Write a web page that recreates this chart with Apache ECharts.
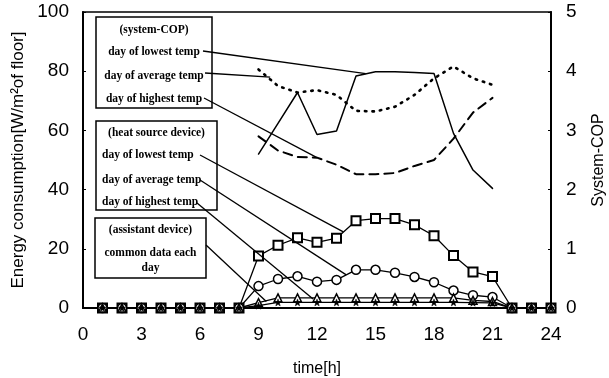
<!DOCTYPE html>
<html>
<head>
<meta charset="utf-8">
<script src="https://cdn.jsdelivr.net/npm/echarts@6/dist/echarts.min.js"></script>
<style>
html,body{margin:0;padding:0;background:#fff;}
#mainChart{width:609px;height:378px;}
</style>
</head>
<body>
<div id="mainChart"></div>
<script>
var chart;

// 时刻 (h)
var hours = [1,2,3,4,5,6,7,8,9,10,11,12,13,14,15,16,17,18,19,20,21,22,23,24];
var xTicks = [0,3,6,9,12,15,18,21,24];

// heat source device 能耗 [W/m2]
var hsLowest  = [0,0,0,0,0,0,0,0,17.6,21.2,23.7,22.2,23.6,29.5,30.2,30.2,28.1,24.4,17.7,12.2,10.6,0,0,0];
var hsAverage = [0,0,0,0,0,0,0,0,7.4,9.8,10.7,8.9,9.5,12.9,12.9,11.9,10.5,8.7,5.9,4.3,3.7,0,0,0];
var hsHighest = [0,0,0,0,0,0,0,0,1.8,3.4,3.4,3.4,3.4,3.4,3.4,3.4,3.4,3.4,3.4,2.6,2.2,0,0,0];
// assistant device
var assistant = [0,0,0,0,0,0,0,0,0.8,1.9,1.9,1.9,1.9,1.9,1.9,1.9,1.9,1.9,1.9,1.8,1.7,0,0,0];

// system-COP (9时~21时)
var copHours   = [9,10,11,12,13,14,15,16,17,18,19,20,21];
var copLowest  = [2.6,3.12,3.64,2.93,2.99,3.92,3.99,3.99,3.98,3.96,2.95,2.33,2.02];
var copAverage = [4.03,3.75,3.64,3.68,3.6,3.33,3.32,3.4,3.6,3.88,4.08,3.88,3.77];
var copHighest = [2.9,2.66,2.55,2.54,2.42,2.26,2.26,2.28,2.4,2.5,2.86,3.3,3.55];

// 文字框
var boxes = [
	{x:96, y:17, w:116, h:91, align:'center', lines:[
		{t:'(system-COP)', y:30},
		{t:'day of lowest temp', y:52},
		{t:'day of average temp', y:76},
		{t:'day of highest temp', y:99}
	]},
	{x:96, y:121, w:121, h:89, align:'left', lines:[
		{t:'(heat source device)', y:133, center:true},
		{t:'day of lowest temp', y:155},
		{t:'day of average temp', y:180},
		{t:'day of highest temp', y:202}
	]},
	{x:95, y:218, w:111, h:60, align:'center', lines:[
		{t:'(assistant device)', y:230},
		{t:'common data each', y:253},
		{t:'day', y:268}
	]}
];

// 引出线: 起点(文字末端), 终点(数据坐标)
var leaders = [
	{from:[203,51],  to:[14.5,3.96], axis:1},
	{from:[205,73],  to:[9.6,3.9],   axis:1},
	{from:[204,98],  to:[12,2.54],   axis:1},
	{from:[200,155], to:[13.35,25.7],axis:0},
	{from:[200,180], to:[13.5,11.2], axis:0},
	{from:[197,203], to:[11.8,3.0],  axis:0},
	{from:[206,245], to:[9.4,2.2],   axis:0}
];

function pairs(xs, ys){
	var arr = [];
	for(var i = 0;i < xs.length;i++){
		arr.push([xs[i], ys[i]]);
	}
	return arr;
}

var serifFont = '"Liberation Serif", "DejaVu Serif", serif';
var sansFont = '"Liberation Sans", Arial, sans-serif';
var starPath = 'path://M0,-10L2.4,-3.3L9.5,-3.1L3.9,1.3L5.9,8.1L0,4.1L-5.9,8.1L-3.9,1.3L-9.5,-3.1L-2.4,-3.3Z';

function energySeries(name, data, symbol, size, fill, border){
	return {
		name:name,
		type:'line',
		yAxisIndex:0,
		data:pairs(hours, data),
		symbol:symbol,
		symbolSize:size,
		showSymbol:true,
		lineStyle:{color:'#000', width:1.3},
		itemStyle:{color:fill, borderColor:'#000', borderWidth:border},
		z:3
	};
}

function copSeries(name, data, type, width){
	return {
		name:name,
		type:'line',
		yAxisIndex:1,
		data:pairs(copHours, data),
		symbol:'none',
		lineStyle:{color:'#000', width:width, type:type, cap:'round'},
		z:2
	};
}

function chartInit(){
	chart = echarts.init(document.getElementById('mainChart'));  //初始化
	var option = {
		backgroundColor:'#fff',
		animation:false,
		grid:{
			left:83,
			right:58,
			top:12,
			bottom:70,
			outerBoundsMode:'none',
			show:true,
			borderColor:'#000',
			borderWidth:1.5
		},
		xAxis:{
			type:'value',
			min:0,
			max:24,
			interval:3,
			name:'time[h]',
			nameLocation:'middle',
			nameGap:53,
			nameTextStyle:{color:'#000', fontSize:16, fontFamily:sansFont},
			axisLine:{lineStyle:{color:'#000', width:2}},
			axisTick:{show:false},
			splitLine:{show:false},
			axisLabel:{
				color:'#000', fontSize:19, fontFamily:sansFont, margin:17,
				formatter:function(v){ return xTicks.indexOf(v) >= 0 ? String(v) : ''; }
			}
		},
		yAxis:[{
			type:'value',
			min:0,
			max:100,
			interval:20,
			position:'left',
			name:'Energy consumption[W/m²of floor]',
			nameLocation:'middle',
			nameGap:49,
			nameRotate:90,
			nameTextStyle:{color:'#000', fontSize:17, fontFamily:sansFont},
			axisLine:{show:true, lineStyle:{color:'#000', width:2}},
			axisTick:{show:true, inside:true, length:3, lineStyle:{color:'#000'}},
			splitLine:{show:false},
			axisLabel:{color:'#000', fontSize:19, fontFamily:sansFont, margin:14}
		},{
			type:'value',
			min:0,
			max:5,
			interval:1,
			position:'right',
			name:'System-COP',
			nameLocation:'middle',
			nameGap:40,
			nameRotate:90,
			nameTextStyle:{color:'#000', fontSize:16, fontFamily:sansFont},
			axisLine:{show:true, lineStyle:{color:'#000', width:2}},
			axisTick:{show:true, inside:true, length:3, lineStyle:{color:'#000'}},
			splitLine:{show:false},
			axisLabel:{color:'#000', fontSize:19, fontFamily:sansFont, margin:15}
		}],
		series:[
			copSeries('COP lowest', copLowest, 'solid', 1.5),
			copSeries('COP average', copAverage, [1.5,6], 2.6),
			copSeries('COP highest', copHighest, [9,6], 2),
			energySeries('HS lowest', hsLowest, 'rect', 9, '#fff', 2),
			energySeries('HS average', hsAverage, 'circle', 9, '#fff', 1.5),
			energySeries('HS highest', hsHighest, 'triangle', 8, '#fff', 1.5),
			energySeries('Assistant', assistant, starPath, 7, '#000', 0.5)
		]
	};
	chart.setOption(option);
	drawNotes();
}

// 画文字框和引出线
function drawNotes(){
	var elements = [];
	for(var i = 0;i < boxes.length;i++){
		var b = boxes[i];
		elements.push({
			type:'rect',
			shape:{x:b.x, y:b.y, width:b.w, height:b.h},
			style:{fill:'#fff', stroke:'#000', lineWidth:1.5},
			z:10
		});
		for(var j = 0;j < b.lines.length;j++){
			var ln = b.lines[j];
			var centered = b.align == 'center' || ln.center;
			elements.push({
				type:'text',
				x:centered ? b.x + b.w / 2 : b.x + 6,
				y:ln.y,
				style:{
					text:ln.t,
					fill:'#000',
					font:'bold 11.5px ' + serifFont,
					align:centered ? 'center' : 'left',
					verticalAlign:'middle'
				},
				z:11
			});
		}
	}
	for(var k = 0;k < leaders.length;k++){
		var l = leaders[k];
		var end = chart.convertToPixel({xAxisIndex:0, yAxisIndex:l.axis}, l.to);
		elements.push({
			type:'line',
			shape:{x1:l.from[0], y1:l.from[1], x2:end[0], y2:end[1]},
			style:{stroke:'#000', lineWidth:1.3},
			z:12
		});
	}
	chart.setOption({graphic:{elements:elements}});
}

chartInit();
</script>
</body>
</html>
